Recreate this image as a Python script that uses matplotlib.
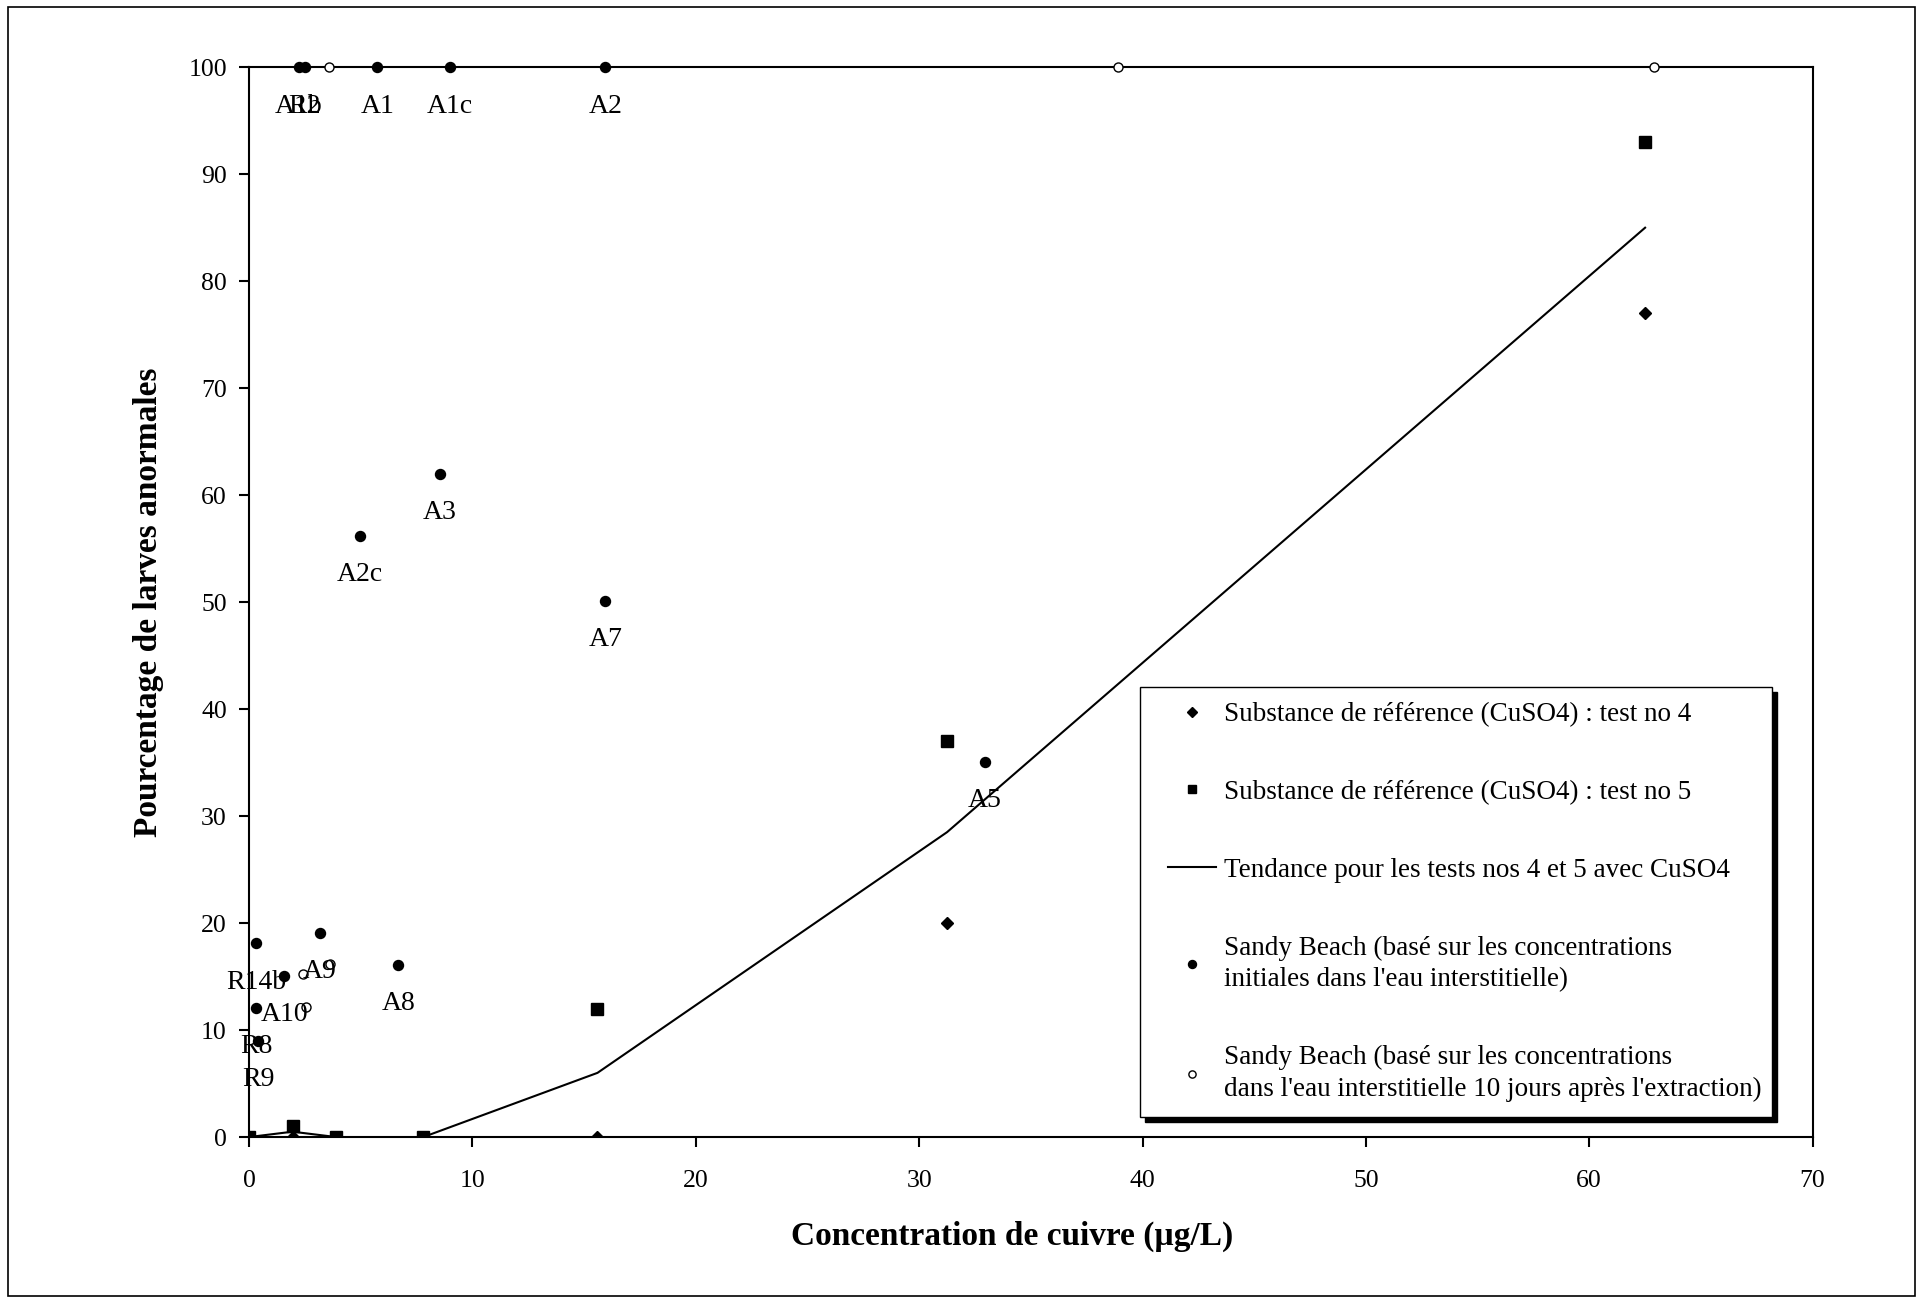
import matplotlib
matplotlib.use('Agg')
import matplotlib.pyplot as plt
import numpy as np
from matplotlib.patches import Rectangle
from matplotlib.lines import Line2D
from matplotlib.legend_handler import HandlerLine2D

plt.rcParams['font.family'] = ['Liberation Serif', 'DejaVu Serif']

# reference substance (CuSO4) tests
cuso4_conc = [0, 1.95, 3.9, 7.8, 15.6, 31.25, 62.5]
test4 = [0, 0, 0, 0, 0, 20, 77]
test5 = [0, 1, 0, 0, 12, 37, 93]

# Sandy Beach, initial porewater concentrations
sb_init_x = [2.24, 2.5, 5.75, 8.98, 15.95, 4.98, 8.54, 15.95, 32.95, 6.68, 3.18, 0.31, 1.57, 0.31, 0.4]
sb_init_y = [100, 100, 100, 100, 100, 56.2, 62.0, 50.1, 35.1, 16.1, 19.1, 18.1, 15.1, 12.1, 9.0]
sb_names = ['A1b', 'R2', 'A1', 'A1c', 'A2', 'A2c', 'A3', 'A7', 'A5', 'A8', 'A9', 'R14b', 'A10', 'R8', 'R9']

# Sandy Beach, porewater 10 days after extraction
sb_10d_x = [3.56, 38.9, 62.9, 2.42, 3.63, 2.55]
sb_10d_y = [100, 100, 100, 15.2, 16.2, 12.2]

trend = np.mean([test4, test5], axis=0)

fig = plt.figure(figsize=(19.23, 12.98), dpi=100)
ax = fig.add_axes([0.1295, 0.124, 0.8131, 0.8242])

# outer chart border
fig.patches.append(Rectangle((0.0042, 0.0015), 0.9917, 0.993, transform=fig.transFigure,
                             fill=False, edgecolor='black', linewidth=1.2))

ax.plot(cuso4_conc, trend, color='black', lw=1.5, zorder=2,
        label='Tendance pour les tests nos 4 et 5 avec CuSO4')
ax.plot(cuso4_conc, test4, ls='none', marker='D', ms=6.2, color='black', zorder=3,
        label='Substance de référence (CuSO4) : test no 4')
ax.plot(cuso4_conc, test5, ls='none', marker='s', ms=8, color='black', zorder=3,
        label='Substance de référence (CuSO4) : test no 5')
ax.plot(sb_init_x, sb_init_y, ls='none', marker='o', ms=7.2, color='black', zorder=4,
        clip_on=False,
        label="Sandy Beach (basé sur les concentrations\ninitiales dans l'eau interstitielle)")
ax.plot(sb_10d_x, sb_10d_y, ls='none', marker='o', ms=6.5, mfc='white', mec='black',
        mew=1.0, zorder=4, clip_on=False,
        label="Sandy Beach (basé sur les concentrations\ndans l'eau interstitielle 10 jours après l'extraction)")

for x, y, name in zip(sb_init_x, sb_init_y, sb_names):
    ax.annotate(name, (x, y), xytext=(0, -28), textcoords='offset points',
                ha='center', va='center', fontsize=20, zorder=5)

ax.set_xlim(0, 70)
ax.set_ylim(0, 100)
ax.set_xticks(np.arange(0, 71, 10))
ax.set_yticks(np.arange(0, 101, 10))
ax.tick_params(axis='both', direction='out', length=7, width=1.5, labelsize=18.5)
ax.tick_params(axis='x', pad=17)
ax.tick_params(axis='y', pad=9)
for s in ax.spines.values():
    s.set_linewidth(1.5)

ax.set_xlabel('Concentration de cuivre (µg/L)', fontsize=24, fontweight='bold')
ax.set_ylabel('Pourcentage de larves anormales', fontsize=24, fontweight='bold')
ax.xaxis.label.set_va('center')
ax.yaxis.label.set_va('center')
ax.xaxis.set_label_coords(0.488, -0.0925)
ax.yaxis.set_label_coords(-0.0646, 0.5)

handles, labels = ax.get_legend_handles_labels()
order = [1, 2, 0, 3, 4]
leg = ax.legend([handles[i] for i in order], [labels[i] for i in order],
                loc='lower left', bbox_to_anchor=(0.570, 0.0187, 0.4038, 0.4037),
                mode='expand', borderaxespad=0, fontsize=19.5, frameon=True,
                fancybox=False, markerscale=0.8, handlelength=2.23,
                handletextpad=0.3, labelspacing=1.95, borderpad=0.55,
                handler_map={Line2D: HandlerLine2D(xpad=0.49)},
                shadow={'facecolor': 'black', 'edgecolor': 'black', 'alpha': 1,
                        'ox': 3.6, 'oy': -3.6})
leg.get_frame().set_edgecolor('black')
leg.get_frame().set_linewidth(1.0)
for t in leg.get_texts():
    t.set_linespacing(1.35)

fig.savefig('out.png', dpi=100)
